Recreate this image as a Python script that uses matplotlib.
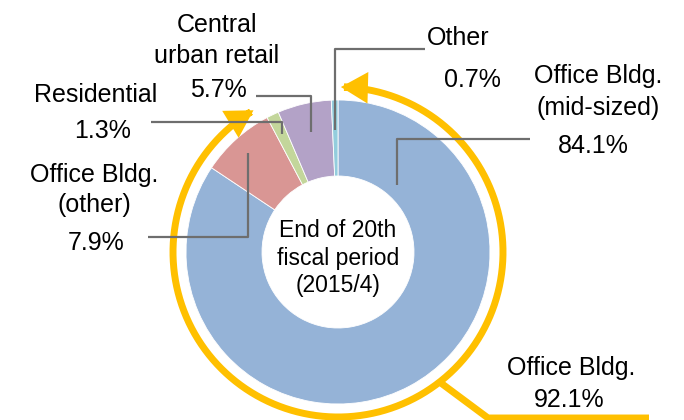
import numpy as np
import matplotlib.pyplot as plt
from matplotlib.patches import FancyArrowPatch
from matplotlib.path import Path

plt.rcParams['font.family'] = ['Liberation Sans', 'DejaVu Sans']

# portfolio breakdown, clockwise from the top
categories = ['Office Bldg.\n(mid-sized)', 'Office Bldg.\n(other)', 'Residential',
              'Central\nurban retail', 'Other']
shares = [84.1, 7.9, 1.3, 5.7, 0.7]
colors = ['#95B3D7', '#D99694', '#C3D69B', '#B3A2C7', '#93CDDD']
office_label = 'Office Bldg.'
office_total = 92.1
center_lines = ['End of 20th', 'fiscal period', '(2015/4)']

W, H = 684, 420
fig = plt.figure(figsize=(W / 100, H / 100), dpi=100)
ax = fig.add_axes([0, 0, 1, 1])

cx, cy, R = 338, 252, 152   # image coords (y down)
wedges, _ = ax.pie(shares, colors=colors, startangle=90, counterclock=False,
                   center=(cx, H - cy), radius=R,
                   wedgeprops=dict(width=R / 2, edgecolor='white', linewidth=0.6))
ax.set_xlim(0, W)
ax.set_ylim(0, H)
ax.set_aspect('equal')
ax.axis('off')


def polar(angle, r):
    a = np.radians(angle)
    return cx + r * np.cos(a), cy - r * np.sin(a)


def line(pts, **kw):
    xs = [p[0] for p in pts]
    ys = [H - p[1] for p in pts]
    ax.plot(xs, ys, solid_capstyle='butt', **kw)


def label(s, x, y, size=18):
    ax.text(x, H - y, s, ha='center', va='baseline', fontsize=size, color='black')


# leader lines: (anchor angle, anchor radius, elbow y, end x)
gray = '#6E6E6E'
mid = [(w.theta1 + w.theta2) / 2 for w in wedges]
leaders = [(48.6, 0.59, 139, 530),
           (mid[1], 0.88, 237, 148),
           (mid[2], 0.86, 122, 151),
           (mid[3], 0.81, 96, 256),
           (mid[4], 0.80, 49, 425)]
for ang, rf, ey, ex in leaders:
    px, py = polar(ang, rf * R)
    line([(px, py), (px, ey), (ex, ey)], color=gray, lw=1.6)

# label text positions (centre x, baseline y per line)
label_pos = [[(598, 83), (598, 115), (593, 153)],
             [(94, 182), (94, 212), (96, 250)],
             [(96, 102), (103, 138)],
             [(217, 32), (217, 63), (218, 97)],
             [(458, 45), (472, 87)]]
for cat, val, pos in zip(categories, shares, label_pos):
    lines = cat.split('\n') + [f'{val:.1f}%']
    for s, (x, y) in zip(lines, pos):
        label(s, x, y)

# centre text
for s, y in zip(center_lines, [237, 265, 292]):
    label(s, cx, y, size=16.5)

# orange double arrow around the office share
orange = '#FFC000'
ring = 165
th = np.linspace(90 - 1, wedges[1].theta1 + 3, 300)
ax_pts = [polar(t, ring) for t in th]
arc = Path(np.array([(x, H - y) for x, y in ax_pts]))
ax.add_patch(FancyArrowPatch(path=arc, arrowstyle='<|-|>,head_length=12,head_width=7',
                             color=orange, lw=5, shrinkA=0, shrinkB=0,
                             mutation_scale=1, joinstyle='miter'))
sx, sy = polar(-52, ring)
line([(sx, sy), (488, 418), (649, 418)], color=orange, lw=5)
label(office_label, 571, 375)
label(f'{office_total:.1f}%', 569, 407)

fig.savefig('out.png', dpi=100)
